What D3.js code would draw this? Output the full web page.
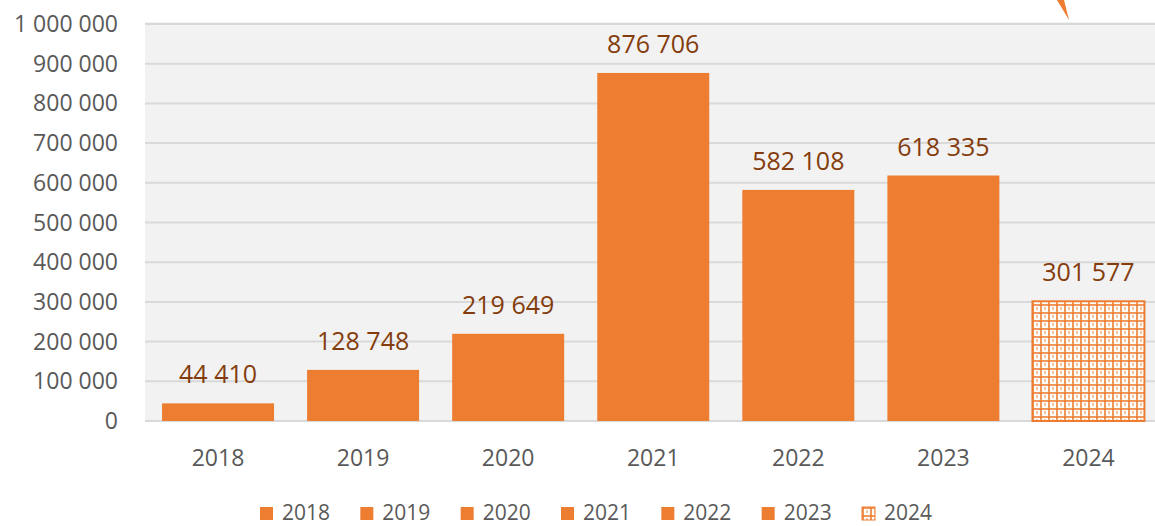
<!DOCTYPE html>
<html>
<head>
<meta charset="utf-8">
<script src="https://cdn.jsdelivr.net/npm/d3@7"></script>
<style>
  body { margin: 0; background: #fff; }
  text { font-family: "Open Sans", sans-serif; }
</style>
</head>
<body>
<script>
// chart data
var years = ["2018", "2019", "2020", "2021", "2022", "2023", "2024"];
var values = [44410, 128748, 219649, 876706, 582108, 618335, 301577];
var yTicks = [0, 100000, 200000, 300000, 400000, 500000, 600000, 700000, 800000, 900000, 1000000];
var hatched = ["2024"];

var W = 1155, H = 526;
var orange = "#ED7D31";

var svg = d3.select("body").append("svg")
    .attr("width", W)
    .attr("height", H);

// checkered pattern for the 2024 bar
var defs = svg.append("defs");
var pat = defs.append("pattern")
    .attr("id", "check")
    .attr("patternUnits", "userSpaceOnUse")
    .attr("width", 8)
    .attr("height", 8);
pat.append("rect").attr("width", 8).attr("height", 8).attr("fill", "#fff");
pat.append("rect").attr("x", 0).attr("y", 0).attr("width", 8).attr("height", 2).attr("fill", orange).attr("opacity", 0.8);
pat.append("rect").attr("x", 0).attr("y", 0).attr("width", 2).attr("height", 8).attr("fill", orange).attr("opacity", 0.8);
pat.append("rect").attr("x", 4).attr("y", 3).attr("width", 2).attr("height", 3).attr("fill", orange).attr("opacity", 0.45);

var x = d3.scaleBand()
    .domain(years)
    .range([145.5, 1161])
    .paddingInner(0.228)
    .paddingOuter(0.114);

var y = d3.scaleLinear()
    .domain([0, 1000000])
    .range([421, 24]);

var fmt = function(v) { return d3.format(",")(v).replace(/,/g, " "); };

// plot area background
svg.append("rect")
    .attr("x", 145)
    .attr("y", 22)
    .attr("width", W - 145)
    .attr("height", 400)
    .attr("fill", "#F2F2F2");

// gridlines
svg.append("g").selectAll("line")
    .data(yTicks)
  .enter().append("line")
    .attr("x1", 145)
    .attr("x2", W)
    .attr("y1", function(d) { return y(d); })
    .attr("y2", function(d) { return y(d); })
    .attr("stroke", "#D9D9D9")
    .attr("stroke-width", 2);

// y axis labels
svg.append("g").selectAll("text")
    .data(yTicks)
  .enter().append("text")
    .attr("x", 118)
    .attr("y", function(d) { return y(d); })
    .attr("dy", "0.35em")
    .attr("text-anchor", "end")
    .attr("fill", "#595959")
    .style("font-size", "23px")
    .text(fmt);

// bars
svg.append("g").selectAll("rect")
    .data(years)
  .enter().append("rect")
    .attr("x", function(d) { return x(d); })
    .attr("y", function(d, i) { return y(values[i]); })
    .attr("width", x.bandwidth())
    .attr("height", function(d, i) { return y(0) - y(values[i]); })
    .attr("fill", function(d) { return hatched.indexOf(d) >= 0 ? "url(#check)" : orange; })
    .attr("stroke", function(d) { return hatched.indexOf(d) >= 0 ? orange : "none"; })
    .attr("stroke-width", 2);

// data labels
svg.append("g").selectAll("text")
    .data(years)
  .enter().append("text")
    .attr("x", function(d) { return x(d) + x.bandwidth() / 2; })
    .attr("y", function(d, i) { return y(values[i]) - 20; })
    .attr("text-anchor", "middle")
    .attr("fill", "#843C0C")
    .style("font-size", "25px")
    .text(function(d, i) { return fmt(values[i]); });

// x axis labels
svg.append("g").selectAll("text")
    .data(years)
  .enter().append("text")
    .attr("x", function(d) { return x(d) + x.bandwidth() / 2; })
    .attr("y", 466)
    .attr("text-anchor", "middle")
    .attr("fill", "#595959")
    .style("font-size", "23px")
    .text(function(d) { return d; });

// legend
var legendX = d3.scalePoint().domain(years).range([260, 862]);
var legend = svg.append("g").selectAll("g")
    .data(years)
  .enter().append("g")
    .attr("transform", function(d) { return "translate(" + legendX(d) + ",507)"; });

legend.append("rect")
    .attr("width", 13)
    .attr("height", 13)
    .attr("fill", function(d) { return hatched.indexOf(d) >= 0 ? "url(#check)" : orange; })
    .attr("stroke", function(d) { return hatched.indexOf(d) >= 0 ? orange : "none"; })
    .attr("stroke-width", 1);

legend.append("text")
    .attr("x", 22)
    .attr("y", 13)
    .attr("fill", "#595959")
    .style("font-size", "21px")
    .text(function(d) { return d; });

// piece of an arrow sticking in from above
svg.append("polygon")
    .attr("points", "1057,0 1064,0 1069,20")
    .attr("fill", orange);
</script>
</body>
</html>
